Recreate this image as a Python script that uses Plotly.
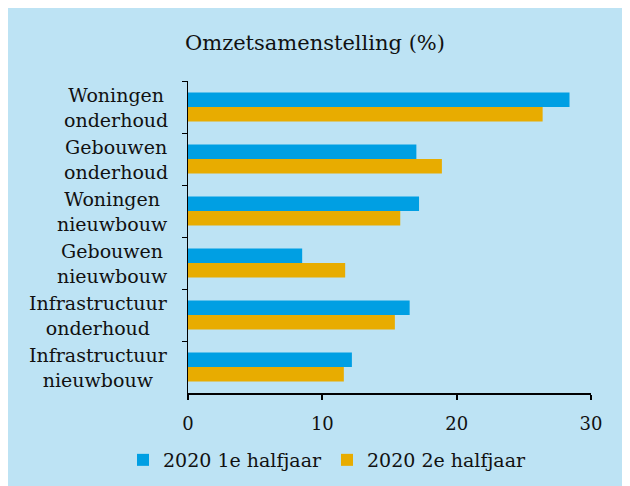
import plotly.graph_objects as go

categories = [
    "Woningen<br>onderhoud",
    "Gebouwen<br>onderhoud",
    "Woningen<br>nieuwbouw",
    "Gebouwen<br>nieuwbouw",
    "Infrastructuur<br>onderhoud",
    "Infrastructuur<br>nieuwbouw",
]
h1_values = [28.4, 17.0, 17.2, 8.5, 16.5, 12.2]
h2_values = [26.4, 18.9, 15.8, 11.7, 15.4, 11.6]
series_names = ["2020 1e halfjaar", "2020 2e halfjaar"]
x_ticks = [0, 10, 20, 30]
title_text = "Omzetsamenstelling (%)"

# page offset caused by the default body margin of the html page
OFF = 8
W, H = 630, 486
# target plot area in page pixels: x 188..591, y 81..393
ML = 188 - OFF
MT = 81 - OFF
MR = W + OFF - 591
MB = H + OFF - 393
PW, PH = W - ML - MR, H - MT - MB

FONT = "DejaVu Serif, serif"
BG = "#BDE3F4"
BLUE = "#009FE3"
ORANGE = "#E8AC00"
TXT = "#111111"


def page_x_to_paper(px):
    return (px - 188) / PW


def page_y_to_paper(py):
    return (393 - py) / PH


fig = go.Figure()
fig.add_trace(go.Bar(y=categories, x=h1_values, orientation="h", name=series_names[0],
                     marker=dict(color=BLUE, line=dict(width=0))))
fig.add_trace(go.Bar(y=categories, x=h2_values, orientation="h", name=series_names[1],
                     marker=dict(color=ORANGE, line=dict(width=0))))

annotations = []
for c in categories:
    annotations.append(dict(
        x=page_x_to_paper(170), xref="paper", y=c, yref="y",
        text=c, showarrow=False, xanchor="right", yanchor="middle", align="center",
        font=dict(family=FONT, size=19, color=TXT),
    ))

fig.update_layout(
    width=W, height=H,
    margin=dict(l=ML, r=MR, t=MT, b=MB, pad=0),
    paper_bgcolor=BG,
    plot_bgcolor=BG,
    barmode="group", bargap=0.44, bargroupgap=0,
    title=dict(text=title_text, x=(315 - OFF) / W, xanchor="center", xref="container",
               y=1 - (43 - OFF) / H, yanchor="middle", yref="container",
               font=dict(family=FONT, size=21, color=TXT)),
    font=dict(family=FONT, size=18, color=TXT),
    showlegend=True,
    legend=dict(orientation="h", x=page_x_to_paper(327), xanchor="center",
                y=page_y_to_paper(460), yanchor="middle",
                font=dict(family=FONT, size=19, color=TXT),
                bgcolor="rgba(0,0,0,0)", itemwidth=30, traceorder="normal"),
    annotations=annotations,
)
fig.update_xaxes(range=[0, 30], tickvals=x_ticks, showgrid=False, zeroline=False,
                 showline=True, linecolor="black", linewidth=2,
                 ticks="outside", ticklen=5, tickwidth=2, tickcolor="black",
                 ticklabelstandoff=8,
                 tickfont=dict(family=FONT, size=18, color=TXT))
fig.update_yaxes(categoryorder="array", categoryarray=categories, autorange="reversed",
                 showticklabels=False, showgrid=False, zeroline=False,
                 showline=True, linecolor="black", linewidth=1,
                 ticks="outside", tickson="boundaries", ticklen=5, tickwidth=1, tickcolor="black")

fig.write_html("out.html")
